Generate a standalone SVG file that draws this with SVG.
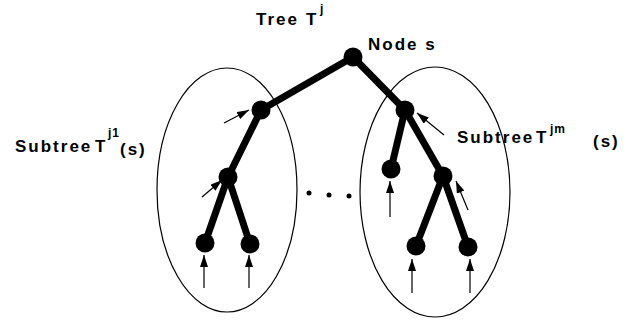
<svg xmlns="http://www.w3.org/2000/svg" width="630" height="323" viewBox="0 0 630 323">
<defs>
<marker id="ah" viewBox="0 0 12 8" refX="12" refY="4" markerWidth="12" markerHeight="8" markerUnits="userSpaceOnUse" orient="auto">
<path d="M0,0 L12,4 L0,8 Z" fill="#000"/>
</marker>
</defs>
<style>
.ell{fill:none;stroke:#000;stroke-width:1.2}
.edge{stroke:#000;stroke-width:7;stroke-linecap:round}
.node{fill:#000}
.arr{stroke:#000;stroke-width:1.2;fill:none;marker-end:url(#ah)}
.t{font-family:"Liberation Sans",Arial,sans-serif;font-weight:bold;font-size:17px;letter-spacing:2px;fill:#000}
.sup{font-family:"Liberation Sans",Arial,sans-serif;font-weight:bold;font-size:12px;letter-spacing:1px;fill:#000}
</style>
<g id="ellipses">
<ellipse class="ell" cx="227" cy="190" rx="70" ry="122"/>
<ellipse class="ell" cx="435" cy="192" rx="75" ry="125"/>
</g>
<g id="connectors">
<line class="edge" x1="353" y1="57" x2="261" y2="110"/>
<line class="edge" x1="353" y1="57" x2="405" y2="110"/>
<line class="edge" x1="261" y1="110" x2="228" y2="177"/>
<line class="edge" x1="228" y1="177" x2="205" y2="243"/>
<line class="edge" x1="228" y1="177" x2="250" y2="244"/>
<line class="edge" x1="405" y1="110" x2="391" y2="169"/>
<line class="edge" x1="405" y1="110" x2="443" y2="176"/>
<line class="edge" x1="443" y1="176" x2="416" y2="246"/>
<line class="edge" x1="443" y1="176" x2="468" y2="247"/>
<line class="arr" x1="224" y1="123" x2="249" y2="110"/>
<line class="arr" x1="202" y1="197" x2="222" y2="180"/>
<line class="arr" x1="444" y1="135" x2="417" y2="113"/>
<line class="arr" x1="468" y1="210" x2="456" y2="181"/>
<line class="arr" x1="390" y1="217" x2="390" y2="181"/>
<line class="arr" x1="204" y1="288" x2="204" y2="255"/>
<line class="arr" x1="249" y1="288" x2="249" y2="255"/>
<line class="arr" x1="412" y1="293" x2="412" y2="259"/>
<line class="arr" x1="470" y1="293" x2="470" y2="259"/>
</g>
<g id="node-s"><circle class="node" cx="353" cy="57" r="9.5"/></g>
<g id="node-a"><circle class="node" cx="261" cy="110" r="9.5"/></g>
<g id="node-b"><circle class="node" cx="228" cy="177" r="9.5"/></g>
<g id="node-b1"><circle class="node" cx="205" cy="243" r="9.5"/></g>
<g id="node-b2"><circle class="node" cx="250" cy="244" r="9.5"/></g>
<g id="node-c"><circle class="node" cx="405" cy="110" r="9.5"/></g>
<g id="node-d"><circle class="node" cx="391" cy="169" r="9.5"/></g>
<g id="node-e"><circle class="node" cx="443" cy="176" r="9.5"/></g>
<g id="node-e1"><circle class="node" cx="416" cy="246" r="9.5"/></g>
<g id="node-e2"><circle class="node" cx="468" cy="247" r="9.5"/></g>
<g id="dots">
<circle cx="309" cy="193" r="2.5"/>
<circle cx="329" cy="195" r="2.5"/>
<circle cx="349" cy="196" r="2.5"/>
</g>
<g id="labels">
<text class="t" x="256" y="25">Tree <tspan x="306">T</tspan></text>
<text class="sup" x="320" y="13">j</text>
<text class="t" x="15" y="152">Subtree</text>
<text class="t" x="95" y="152">T</text>
<text class="sup" x="108" y="137">j1</text>
<text class="t" x="120" y="155">(s)</text>
<text class="t" x="368" y="50">Node s</text>
<text class="t" x="457" y="143">Subtree</text>
<text class="t" x="536" y="143">T</text>
<text class="sup" x="550" y="133">jm</text>
<text class="t" x="593" y="147">(s)</text>
</g>
</svg>
